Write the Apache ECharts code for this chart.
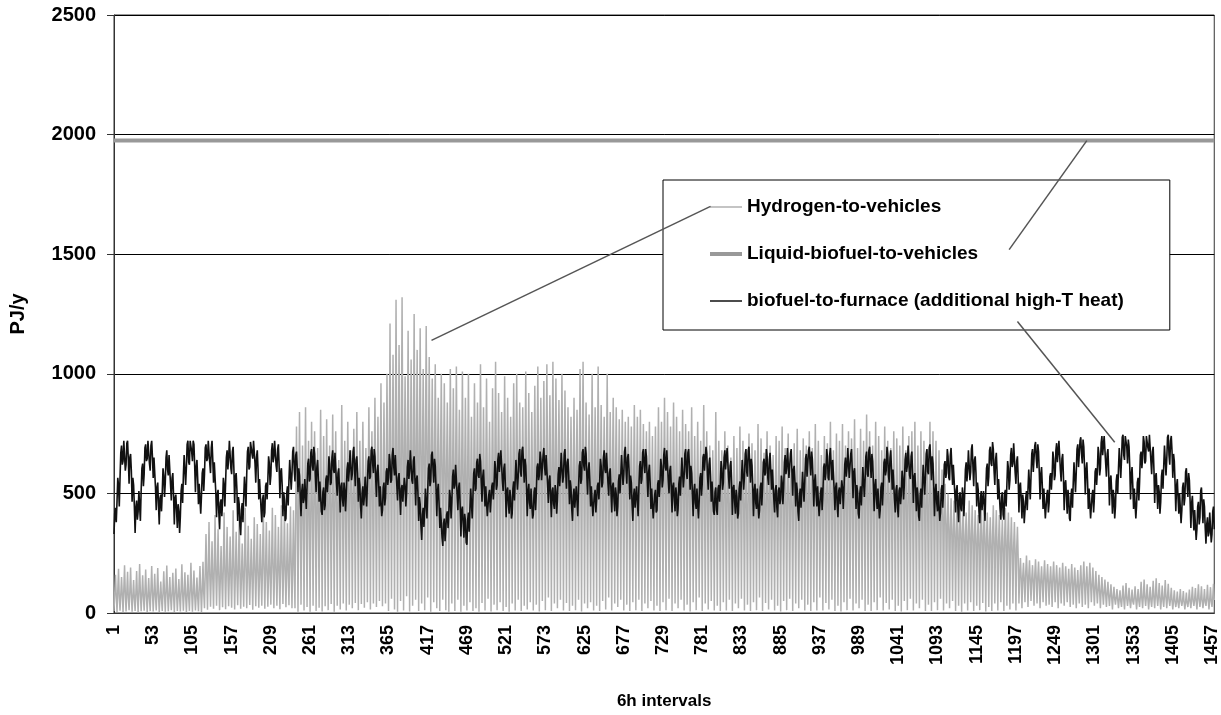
<!DOCTYPE html>
<html>
<head>
<meta charset="utf-8">
<script src="https://cdn.jsdelivr.net/npm/echarts@6/dist/echarts.min.js"></script>
<style>
  html, body { margin: 0; padding: 0; background: #ffffff; }
  #chart { width: 1221px; height: 715px; }
</style>
</head>
<body>
<div id="chart"></div>
<script>
// One year in 6-hour steps: 1460 intervals, numbered from 1
const intervalCount = 1460;
const categories = Array.from({ length: intervalCount }, (_, i) => String(i + 1));
const labelStep = 52;
const yTicks = [0, 500, 1000, 1500, 2000, 2500];

const nameHydrogen = 'Hydrogen-to-vehicles';
const nameLiquid = 'Liquid-biofuel-to-vehicles';
const nameFurnace = 'biofuel-to-furnace (additional high-T heat)';

// Liquid biofuel to vehicles is a flat demand all year (PJ/y)
const liquidBiofuelLevel = 1975;

// Hydrogen to vehicles, PJ/y, four 6h values per day
const hydrogenA = [
  8,85,160,70, 4,92,185,66, 10,78,150,74, 3,96,200,82, 6,88,172,64, 12,90,190,76, 5,72,138,60, 9,84,176,70, 2,94,205,80, 7,80,158,68,
  10,86,182,72, 4,76,146,62, 8,98,196,84, 6,82,164,70, 11,90,188,74, 3,70,132,58, 9,88,174,76, 5,94,198,80, 7,78,150,66, 12,84,168,72,
  4,92,186,78, 8,74,142,64, 6,96,204,82, 10,86,170,70, 3,80,160,68, 9,100,210,86, 5,88,178,74, 11,76,148,66, 7,104,196,90, 4,98,214,84,
  20,170,330,150, 14,185,380,160, 26,160,300,142, 18,195,410,170, 30,176,350,155, 12,150,280,138, 24,200,420,172, 16,182,360,162, 28,166,320,148, 22,205,430,178,
  15,175,340,156, 32,190,395,168, 18,158,290,144, 26,210,440,182, 20,180,365,160, 34,168,310,150, 14,196,400,172, 28,186,372,164, 22,172,330,152, 30,215,425,186,
  18,190,380,168, 26,176,345,158, 35,220,440,190, 20,200,410,176, 30,185,360,166, 16,226,450,196, 38,205,420,182, 24,192,375,172, 32,230,445,200, 20,214,430,186,
  20,440,780,400, 5,460,840,420, 35,420,700,390, 10,470,860,430, 25,430,720,400, 5,455,800,410, 30,480,760,440, 8,440,690,405, 22,490,850,450, 6,465,740,425,
  28,450,810,420, 12,485,700,445, 38,470,830,430, 5,500,760,460, 30,460,640,420, 15,510,870,470, 40,475,720,440, 10,495,800,455, 35,520,680,480, 20,480,770,445,
  42,505,840,465, 12,490,720,450, 38,530,800,490, 22,500,690,460, 45,540,860,500, 15,515,760,475, 40,550,900,510, 25,525,820,485, 50,560,960,520, 28,540,880,500
];
const hydrogenB = [
  40,600,1000,560, 8,640,1210,590, 60,620,1080,580, 15,680,1310,630, 5,650,1120,600, 50,700,1320,650, 10,660,990,610, 70,690,1180,640, 6,640,1060,600, 30,710,1250,660,
  55,670,1100,620, 8,700,1190,650, 40,650,1020,610, 12,720,1200,670, 65,680,1070,630, 5,640,980,600, 45,660,1040,620, 20,620,900,580, 8,650,1000,600, 55,610,960,570,
  12,600,880,560, 5,630,1020,590, 40,590,940,550, 8,620,1030,580, 55,580,850,540, 5,610,1010,570, 30,570,900,530, 10,600,1000,560, 45,560,820,520, 8,590,960,550,
  20,570,880,530, 5,600,1040,560, 42,560,860,520, 10,590,980,550, 60,550,800,510, 6,580,940,540, 35,620,1050,580, 12,600,920,560, 45,570,840,530, 8,610,990,570,
  25,580,900,540, 5,560,820,520, 40,600,960,560, 10,620,1000,580, 55,590,880,550, 8,570,860,530, 30,610,1010,570, 15,580,920,540, 45,560,840,520, 10,600,950,560,
  35,620,1030,580, 6,590,900,550, 50,610,970,570, 12,630,1040,590, 65,600,910,560, 8,640,1050,600, 40,610,980,570, 20,590,890,550, 55,620,1000,580, 10,600,930,560,
  42,580,860,540, 8,560,820,520, 30,590,900,550, 12,570,850,530, 55,600,1020,560, 6,610,1050,570, 40,580,880,540, 20,560,830,520, 45,590,1000,550, 10,570,860,530,
  30,600,1030,560, 8,580,870,540, 50,560,820,520, 15,590,1000,550, 65,570,840,530, 10,600,900,560, 40,580,860,540, 25,560,810,520, 55,570,850,530, 10,550,800,510,
  35,560,820,520, 8,540,780,500, 45,570,870,530, 12,550,820,510, 55,560,850,520, 8,540,790,500, 40,530,760,490, 20,550,800,510, 50,520,740,480, 10,540,780,500
];
const hydrogenC = [
  30,560,860,520, 8,540,800,500, 45,570,900,530, 12,550,840,510, 60,530,780,490, 8,560,880,520, 40,540,820,500, 20,520,760,480, 55,550,850,510, 10,530,790,490,
  35,520,760,480, 6,540,860,500, 45,510,740,470, 12,530,800,490, 65,500,720,460, 8,520,870,480, 40,510,760,470, 15,500,700,460, 50,490,680,450, 10,510,840,470,
  30,500,720,460, 8,480,680,440, 45,510,760,470, 10,490,700,450, 55,470,650,430, 8,500,740,460, 40,480,690,440, 20,510,780,470, 60,490,720,450, 10,470,660,430,
  35,500,750,460, 8,490,710,450, 45,480,680,440, 12,510,790,470, 65,490,730,450, 8,470,670,430, 42,500,760,460, 15,490,700,450, 55,480,660,440, 10,500,740,460,
  30,490,720,450, 6,510,780,470, 50,480,690,440, 12,500,750,460, 60,470,650,430, 8,490,710,450, 40,510,770,470, 20,480,680,440, 55,500,730,460, 10,490,700,450,
  35,500,760,460, 8,480,690,440, 45,510,790,470, 10,490,720,450, 65,470,660,430, 10,500,740,460, 42,490,710,450, 15,510,800,470, 55,480,680,440, 8,500,750,460,
  30,490,720,450, 6,510,790,470, 45,480,700,440, 12,500,760,460, 60,490,730,450, 10,510,810,470, 40,480,690,440, 20,500,770,460, 55,490,720,450, 8,510,830,470,
  35,500,760,460, 8,480,700,440, 45,510,800,470, 12,490,740,450, 65,470,680,430, 10,500,780,460, 42,490,720,450, 15,480,690,440, 55,500,760,460, 8,490,730,450,
  30,480,700,440, 6,500,780,460, 50,470,680,430, 12,490,740,450, 60,480,760,440, 10,500,800,460, 40,470,700,430, 20,490,760,450, 55,480,720,440, 8,470,680,430
];
const hydrogenD = [
  35,490,800,450, 8,480,760,440, 45,470,720,430, 12,460,680,420, 60,430,600,400, 10,400,540,370, 40,370,500,340, 20,350,480,320, 50,340,470,310, 8,330,460,300,
  30,340,460,300, 5,330,440,290, 40,320,420,280, 10,340,470,300, 45,330,450,290, 8,320,430,280, 30,310,410,270, 12,330,460,290, 42,320,440,280, 6,310,420,270,
  25,300,400,260, 8,320,450,280, 40,310,430,270, 10,300,410,260, 45,290,390,250, 8,310,440,270, 30,300,420,260, 15,290,400,250, 40,280,380,240, 10,270,360,230,
  40,160,230,140, 20,150,210,130, 45,170,240,150, 25,155,220,135, 50,145,200,125, 30,160,225,140, 40,150,215,130, 20,140,195,120, 45,155,220,135, 30,145,205,125,
  35,135,195,120, 25,150,215,130, 45,140,200,120, 20,130,190,115, 40,145,210,125, 30,135,195,115, 45,125,185,110, 25,140,205,120, 35,130,190,112, 20,120,180,105,
  40,130,200,112, 25,140,215,120, 35,125,195,110, 20,135,210,118, 45,120,190,105, 30,110,175,95, 40,100,160,88, 20,95,150,82, 35,90,140,78, 25,85,130,72,
  30,75,120,64, 15,70,110,58, 35,65,100,55, 20,60,95,50, 25,68,115,56, 15,72,125,60, 30,62,105,52, 20,58,98,48, 35,66,112,56, 15,60,100,50,
  25,70,130,58, 20,75,140,62, 30,68,120,56, 15,62,110,52, 25,72,135,60, 20,78,145,64, 30,70,125,58, 15,64,115,52, 25,74,138,62, 20,68,122,56,
  30,60,105,50, 15,55,95,46, 25,50,90,42, 20,58,100,48, 30,52,92,44, 15,48,85,40, 25,55,98,46, 20,62,110,50, 30,58,104,48, 15,66,120,54,
  25,60,112,50, 20,54,100,46, 30,62,118,52, 15,58,108,48, 25,64,122,54
];

// Biofuel to furnace (additional high-temperature heat), PJ/y, four 6h values per day
const furnaceA = [
  330,420,440,380, 465,565,535,445, 565,670,700,620, 635,720,715,595, 620,710,720,640, 540,650,665,595, 465,565,535,445, 335,440,470,390, 425,510,505,385, 510,605,625,530,
  580,690,705,635, 645,720,715,625, 595,700,720,650, 565,650,645,525, 430,525,545,450, 370,480,495,425, 505,605,575,485, 545,650,680,600, 575,660,655,535, 470,565,585,490,
  370,480,495,425, 355,455,425,335, 405,510,540,460, 575,660,655,535, 610,705,720,630, 620,720,715,675, 635,720,705,615, 505,610,640,560, 455,540,535,415, 490,585,605,510,
  580,690,705,635, 645,720,715,625, 585,690,720,640, 545,630,625,505, 400,495,515,420, 350,460,475,405, 465,565,535,445, 545,650,680,600, 645,720,715,605, 580,675,695,600,
  460,570,585,515, 385,485,455,365, 325,430,460,380, 485,570,565,445, 580,675,695,600, 610,715,720,665, 645,720,715,625, 545,650,680,600, 475,560,555,435, 380,475,495,400,
  420,530,545,475, 555,655,625,535, 575,680,710,630, 655,720,715,615, 590,685,705,610, 480,590,605,535, 405,505,475,385, 395,500,530,450, 555,640,635,515, 580,675,695,600,
  550,660,675,605, 505,605,575,485, 405,510,540,460, 475,560,555,435, 530,625,645,550, 560,670,685,615, 595,695,665,575, 505,610,640,560, 465,550,545,425, 410,505,525,430,
  450,560,575,505, 555,655,625,535, 545,650,680,600, 585,670,665,545, 490,585,605,510, 420,530,545,475, 445,545,515,425, 495,600,630,550, 595,680,675,555, 580,675,695,600,
  530,640,655,585, 465,565,535,445, 395,500,530,450, 485,570,565,445, 540,635,655,560, 570,680,695,625, 585,685,655,565, 485,590,620,540, 445,530,525,405, 430,525,545,450
];
const furnaceB = [
  480,590,605,535, 565,665,635,545, 555,660,690,610, 575,660,655,535, 470,565,585,490, 410,520,535,465, 465,565,535,445, 505,610,640,560, 595,680,675,555, 540,635,655,560,
  450,560,575,505, 385,485,455,365, 305,410,440,360, 435,520,515,395, 510,605,625,530, 550,660,675,605, 545,645,615,525, 405,510,540,460, 355,440,435,315, 280,375,395,300,
  300,410,425,355, 415,515,485,395, 465,570,600,520, 535,620,615,495, 430,525,545,450, 320,430,445,375, 315,415,385,295, 285,390,420,340, 435,520,515,395, 490,585,605,510,
  520,630,645,575, 565,665,635,545, 465,570,600,520, 445,530,525,405, 400,495,515,420, 420,530,545,475, 535,635,605,515, 535,640,670,590, 595,680,675,555, 510,605,625,530,
  400,510,525,455, 415,515,485,395, 415,520,550,470, 555,640,635,515, 570,665,685,590, 570,680,695,625, 545,645,615,525, 405,510,540,460, 435,520,515,395, 410,505,525,430,
  500,610,625,555, 575,675,645,555, 555,660,690,610, 575,660,655,535, 460,555,575,480, 400,510,525,455, 435,535,505,415, 475,580,610,530, 585,670,665,545, 570,665,685,590,
  520,630,645,575, 455,555,525,435, 385,490,520,440, 445,530,525,405, 520,615,635,540, 560,670,685,615, 595,695,665,575, 495,600,630,550, 445,530,525,405, 400,495,515,420,
  420,530,545,475, 545,645,615,525, 545,650,680,600, 585,670,665,545, 490,585,605,510, 420,530,545,475, 425,525,495,405, 445,550,580,500, 575,660,655,535, 580,675,695,600,
  540,650,665,595, 475,575,545,455, 385,490,520,440, 445,530,525,405, 520,615,635,540, 560,670,685,615, 585,685,655,565, 485,590,620,540, 435,520,515,395, 400,495,515,420
];
const furnaceC = [
  430,540,555,485, 545,645,615,525, 555,660,690,610, 595,680,675,555, 500,595,615,520, 420,530,545,475, 425,525,495,405, 435,540,570,490, 565,650,645,525, 570,665,685,590,
  560,670,685,615, 515,615,585,495, 405,510,540,460, 435,520,515,395, 470,565,585,490, 540,650,665,595, 595,695,665,575, 515,620,650,570, 465,550,545,425, 410,505,525,430,
  410,520,535,465, 535,635,605,515, 545,650,680,600, 605,690,685,565, 520,615,635,540, 410,520,535,465, 415,515,485,395, 415,520,550,470, 555,640,635,515, 570,665,685,590,
  570,680,695,625, 545,645,615,525, 405,510,540,460, 435,520,515,395, 430,525,545,450, 520,630,645,575, 585,685,655,565, 535,640,670,590, 515,600,595,475, 420,515,535,440,
  400,510,525,455, 475,575,545,455, 525,630,660,580, 605,690,685,565, 570,665,685,590, 490,600,615,545, 445,545,515,425, 385,490,520,440, 505,590,585,465, 550,645,665,570,
  570,680,695,625, 575,675,645,555, 445,550,580,500, 445,530,525,405, 410,505,525,430, 500,610,625,555, 585,685,655,565, 555,660,690,610, 555,640,635,515, 430,525,545,450,
  400,510,525,455, 455,555,525,435, 515,620,650,570, 605,690,685,565, 570,665,685,590, 480,590,605,535, 435,535,505,415, 395,500,530,450, 525,610,605,485, 560,655,675,580,
  570,680,695,625, 565,665,635,545, 425,530,560,480, 435,520,515,395, 430,525,545,450, 520,630,645,575, 595,695,665,575, 545,650,680,600, 515,600,595,475, 420,515,535,440,
  400,510,525,455, 495,595,565,475, 535,640,670,590, 615,700,695,575, 560,655,675,580, 460,570,585,515, 425,525,495,405, 385,490,520,440, 535,620,615,495, 570,665,685,590
];
const furnaceD = [
  580,690,705,635, 555,655,625,535, 405,510,540,460, 425,510,505,385, 420,515,535,440, 510,620,635,565, 585,685,655,565, 555,660,690,610, 535,620,615,495, 420,515,535,440,
  380,490,505,435, 425,525,495,405, 495,600,630,550, 595,680,675,555, 590,685,705,610, 530,640,655,585, 445,545,515,425, 375,480,510,430, 425,510,505,385, 510,605,625,530,
  570,680,695,625, 615,715,685,595, 535,640,670,590, 475,560,555,435, 390,485,505,410, 390,500,515,445, 535,635,605,515, 555,660,690,610, 625,710,705,585, 540,635,655,560,
  420,530,545,475, 395,495,465,375, 375,480,510,430, 515,600,595,475, 570,665,685,590, 590,700,715,645, 605,705,675,585, 475,580,610,530, 435,520,515,395, 400,495,515,420,
  460,570,585,515, 575,675,645,555, 575,680,710,630, 635,720,715,595, 550,645,665,570, 430,540,555,485, 415,515,485,395, 385,490,520,440, 545,630,625,505, 590,685,705,610,
  610,720,735,665, 625,725,695,605, 495,600,630,550, 435,520,515,395, 400,495,515,420, 480,590,605,535, 595,695,665,575, 605,710,740,660, 665,740,745,625, 570,665,685,590,
  450,560,575,505, 415,515,485,395, 445,550,580,500, 605,690,685,565, 640,735,745,660, 640,740,745,695, 625,725,695,605, 475,580,610,530, 435,520,515,395, 450,545,565,470,
  550,660,675,605, 645,740,715,625, 635,740,745,690, 675,745,740,635, 580,675,695,600, 460,570,585,515, 435,535,505,415, 465,570,600,520, 615,700,695,575, 640,735,745,660,
  620,720,740,675, 565,665,635,545, 425,530,560,480, 415,500,495,375, 430,525,545,450, 480,590,605,535, 485,585,555,465, 355,460,490,410, 345,430,425,305, 350,445,465,370,
  400,510,525,455, 375,475,445,355, 290,370,400,320, 335,420,415,295, 330,425,445,350
];

const hydrogenToVehicles = hydrogenA.concat(hydrogenB, hydrogenC, hydrogenD);
const biofuelToFurnace = furnaceA.concat(furnaceB, furnaceC, furnaceD);

// Leader lines joining each legend entry to its curve: [interval, PJ/y] at both ends
const leaderHydrogen = [['792', 1700], ['422', 1140]];
const leaderLiquid = [['1188', 1519], ['1291', 1975]];
const leaderFurnace = [['1199', 1219], ['1328', 714]];

const FONT = "'Liberation Sans', Arial, Helvetica, sans-serif";
const colorHydrogen = '#b0b0b0';
const colorLiquid = '#999999';
const colorFurnace = '#111111';

const chart = echarts.init(document.getElementById('chart'), null, { renderer: 'canvas' });

function leader(pair) {
  return [{ coord: pair[0] }, { coord: pair[1] }];
}

chart.setOption({
  animation: false,
  backgroundColor: '#ffffff',
  textStyle: { fontFamily: FONT },
  grid: {
    left: 113, right: 3, top: 15, bottom: 101,
    show: true, borderColor: '#333333', borderWidth: 1, backgroundColor: 'transparent'
  },
  legend: {
    orient: 'vertical',
    left: 663, top: 180,
    padding: [17, 46, 19, 45],
    itemWidth: 32, itemHeight: 14, itemGap: 27,
    backgroundColor: '#ffffff',
    borderColor: '#000000', borderWidth: 1, borderRadius: 0,
    selectedMode: false,
    itemStyle: { opacity: 0 },
    textStyle: { fontFamily: FONT, fontSize: 19, fontWeight: 'bold', color: '#000000', lineHeight: 20 },
    data: [
      { name: nameHydrogen, lineStyle: { color: colorHydrogen, width: 1.5 } },
      { name: nameLiquid, lineStyle: { color: colorLiquid, width: 4 } },
      { name: nameFurnace, lineStyle: { color: colorFurnace, width: 1.5 } }
    ]
  },
  xAxis: {
    type: 'category',
    data: categories,
    boundaryGap: false,
    name: '6h intervals',
    nameLocation: 'middle',
    nameGap: 80,
    nameTextStyle: { fontFamily: FONT, fontSize: 17, fontWeight: 'bold', color: '#000000' },
    axisLine: { show: true, lineStyle: { color: '#333333', width: 1 } },
    axisTick: { show: false },
    axisLabel: {
      interval: labelStep - 1,
      rotate: 90,
      margin: 12,
      fontFamily: FONT, fontSize: 18, fontWeight: 'bold', color: '#000000'
    },
    splitLine: { show: false }
  },
  yAxis: {
    type: 'value',
    min: yTicks[0],
    max: yTicks[yTicks.length - 1],
    interval: yTicks[1] - yTicks[0],
    name: 'PJ/y',
    nameLocation: 'middle',
    nameGap: 86,
    nameTextStyle: { fontFamily: FONT, fontSize: 20, fontWeight: 'bold', color: '#000000' },
    axisLine: { show: true, lineStyle: { color: '#333333', width: 1 } },
    axisTick: { show: true, length: 7, lineStyle: { color: '#333333' } },
    axisLabel: {
      margin: 18, fontFamily: FONT, fontSize: 20, fontWeight: 'bold', color: '#000000',
      formatter: (v) => String(v)
    },
    splitLine: { show: true, lineStyle: { color: '#000000', width: 1 } }
  },
  series: [
    {
      name: nameHydrogen,
      type: 'line',
      data: hydrogenToVehicles,
      symbol: 'none',
      sampling: null,
      color: colorHydrogen,
      lineStyle: { color: colorHydrogen, width: 1.5 },
      z: 2
    },
    {
      name: nameLiquid,
      type: 'line',
      data: [[categories[0], liquidBiofuelLevel], [categories[intervalCount - 1], liquidBiofuelLevel]],
      symbol: 'none',
      color: colorLiquid,
      lineStyle: { color: colorLiquid, width: 4 },
      z: 3
    },
    {
      name: nameFurnace,
      type: 'line',
      data: biofuelToFurnace,
      symbol: 'none',
      sampling: null,
      color: colorFurnace,
      lineStyle: { color: colorFurnace, width: 1.6 },
      z: 4,
      markLine: {
        silent: true,
        symbol: ['none', 'none'],
        label: { show: false },
        lineStyle: { color: '#555555', width: 1.5, type: 'solid' },
        emphasis: { disabled: true },
        data: [leader(leaderHydrogen), leader(leaderLiquid), leader(leaderFurnace)]
      }
    }
  ]
});
</script>
</body>
</html>
